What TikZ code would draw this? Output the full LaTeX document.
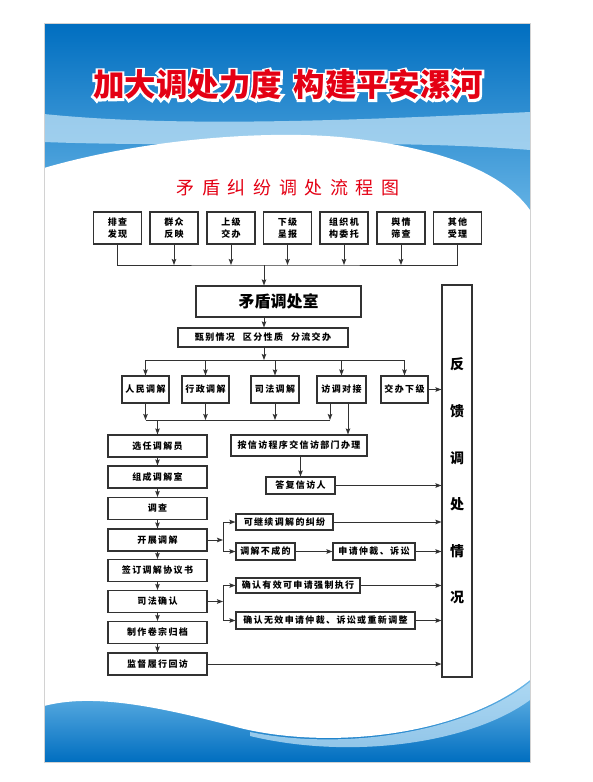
\documentclass[tikz,border=0pt]{standalone}
\usepackage{fontspec}
\usepackage{tikz}
\usetikzlibrary{arrows.meta,positioning,calc}
\usepackage{xcolor}
\newfontfamily\cjk{Noto Sans CJK SC}
\newfontfamily\cjkhalo[FakeBold=14]{Noto Sans CJK SC}
\newfontfamily\cjkwide[LetterSpace=42]{Noto Sans CJK SC}
\newfontfamily\cjkbox[LetterSpace=15]{Noto Sans CJK SC}
\definecolor{lineclr}{RGB}{50,50,50}
\definecolor{titlered}{RGB}{228,0,20}
\definecolor{bannertop}{RGB}{0,110,192}
\definecolor{bannerlow}{RGB}{110,185,232}
\definecolor{skyband}{RGB}{200,230,248}

\begin{document}
\begin{tikzpicture}[x=1pt, y=-1pt,
    srcbox/.style={draw=lineclr, line width=1.1pt, fill=white, minimum width=48pt, minimum height=32pt, inner sep=0pt, align=center, font=\cjkbox\bfseries\fontsize{9}{12}\selectfont},
    stepbox/.style={draw=lineclr, line width=1.1pt, fill=white, minimum height=22pt, inner sep=0pt, align=center, font=\cjkbox\bfseries\fontsize{9}{11}\selectfont},
    smallbox/.style={stepbox, minimum height=17pt},
    feedbox/.style={draw=lineclr, line width=1.1pt, fill=white, minimum width=30pt, minimum height=392pt, inner sep=0pt, align=center, font=\cjk\bfseries\fontsize{14}{46.6}\selectfont},
    myline/.style={draw=lineclr, line width=1pt},
    myarrow/.style={myline, -{Stealth[length=6pt,width=4.5pt,inset=1pt]}},
    titlefont/.style={font=\cjk\bfseries\fontsize{31.5}{33}\selectfont}
]
    \useasboundingbox (0,0) rectangle (593,782);
    \fill[white] (0,0) rectangle (593,782);

    % Poster background
    \fill[white] (44,23) rectangle (530,762);
    \shade[top color=bannertop, bottom color=bannerlow] (44,23) rectangle (530,232);
    \fill[skyband, opacity=0.7] (44,114) .. controls (180,128) and (360,120) .. (530,112) -- (530,150) .. controls (380,138) and (200,148) .. (44,142) -- cycle;
    \fill[white] (44,234) -- (44,168) .. controls (140,140) and (260,130) .. (340,137) .. controls (430,146) and (500,168) .. (530,210) -- (530,234) -- cycle;
    \shade[top color=bannerlow, bottom color=bannertop] (44,680) rectangle (530,762);
    \fill[white] (44,678) -- (44,706) .. controls (90,694) and (150,704) .. (240,728) .. controls (330,750) and (460,736) .. (530,680) -- (530,678) -- cycle;
    \fill[skyband, opacity=0.7] (250,732) .. controls (350,752) and (470,730) .. (530,682) -- (530,700) .. controls (470,744) and (350,760) .. (250,736) -- cycle;
    \draw[gray!35] (44,23) rectangle (530,762);

    % Title
    \node[font=\cjkhalo\bfseries\fontsize{31.5}{33}\selectfont, text=white] (halo) at (288,85) {加大调处力度\hspace{12pt}构建平安漯河};
    \node[titlefont, text=titlered] (title) at (288,85) {加大调处力度\hspace{12pt}构建平安漯河};
    \node[font=\cjkwide\fontsize{18}{20}\selectfont, text=titlered] (subtitle) at (288,188) {矛盾纠纷调处流程图};

    % Sources
    \node[srcbox] (src1) at (117.5,228) {排查\\发现};
    \node[srcbox] (src2) at (174,228) {群众\\反映};
    \node[srcbox] (src3) at (231,228) {上级\\交办};
    \node[srcbox] (src4) at (287.5,228) {下级\\呈报};
    \node[srcbox] (src5) at (344,228) {组织机\\构委托};
    \node[srcbox] (src6) at (401,228) {舆情\\筛查};
    \node[srcbox] (src7) at (457.5,228) {其他\\受理};
    \coordinate (bus) at (264,265);

    % Office
    \node[stepbox, minimum width=165pt, minimum height=31pt, font=\cjk\bfseries\fontsize{16}{18}\selectfont] (office) at (278.5,301.5) {矛盾调处室};
    \node[stepbox, minimum width=170pt, minimum height=19pt] (sort) at (263,337.5) {甄别情况\hspace{8pt}区分性质\hspace{8pt}分流交办};
    \coordinate (split) at (264,360);

    % Mediation types
    \node[stepbox, minimum width=47pt, minimum height=27pt] (m1) at (145.5,389.5) {人民调解};
    \node[stepbox, minimum width=47pt, minimum height=27pt] (m2) at (205.5,389.5) {行政调解};
    \node[stepbox, minimum width=48pt, minimum height=27pt] (m3) at (275,389.5) {司法调解};
    \node[stepbox, minimum width=49pt, minimum height=27pt] (m4) at (341.5,389.5) {访调对接};
    \node[stepbox, minimum width=47pt, minimum height=27pt] (m5) at (404.5,389.5) {交办下级};
    \coordinate (join) at (157.5,420);

    % Feedback
    \node[feedbox] (fb) at (457,481) {反\\馈\\调\\处\\情\\况};

    % Left column
    \node[stepbox, minimum width=99pt] (s1) at (157.5,446) {选任调解员};
    \node[stepbox, minimum width=99pt] (s2) at (157.5,477) {组成调解室};
    \node[stepbox, minimum width=99pt] (s3) at (157.5,508.5) {调查};
    \node[stepbox, minimum width=99pt] (s4) at (157.5,540) {开展调解};
    \node[stepbox, minimum width=99pt] (s5) at (157.5,570.5) {签订调解协议书};
    \node[stepbox, minimum width=99pt] (s6) at (157.5,601.5) {司法确认};
    \node[stepbox, minimum width=99pt] (s7) at (157.5,632.5) {制作卷宗归档};
    \node[stepbox, minimum width=99pt] (s8) at (157.5,664) {监督履行回访};

    % Petition branch
    \node[stepbox, minimum width=136pt, minimum height=21pt] (petition) at (299,445.5) {按信访程序交信访部门办理};
    \node[smallbox, minimum width=69pt] (reply) at (300.5,485.5) {答复信访人};

    % Outcomes
    \coordinate (br1) at (223,540);
    \coordinate (br2) at (223,601.5);
    \node[smallbox, minimum width=97pt, minimum height=16pt] (cont) at (284.5,522) {可继续调解的纠纷};
    \node[smallbox, minimum width=59pt] (fail) at (265.5,551.5) {调解不成的};
    \node[smallbox, minimum width=82pt] (appeal) at (374,551.5) {申请仲裁、诉讼};
    \node[smallbox, minimum width=124pt, minimum height=15pt] (valid) at (298,585.5) {确认有效可申请强制执行};
    \node[smallbox, minimum width=179pt] (invalid) at (325.5,620.5) {确认无效申请仲裁、诉讼或重新调整};

    % Arrows
    \draw[myline] (src1.south) |- (bus) -| (src7.south);
    \draw[myarrow] (src2.south) -- (src2.south |- bus);
    \draw[myarrow] (src3.south) -- (src3.south |- bus);
    \draw[myarrow] (src4.south) -- (src4.south |- bus);
    \draw[myarrow] (src5.south) -- (src5.south |- bus);
    \draw[myarrow] (src6.south) -- (src6.south |- bus);
    \draw[myarrow] (bus) -- (bus |- office.north);
    \draw[myarrow] (bus |- office.south) -- (bus |- sort.north);
    \draw[myarrow] (split |- sort.south) -- (split);
    \draw[myline] (m1.north |- split) -- (m5.north |- split);
    \draw[myarrow] (m1.north |- split) -- (m1.north);
    \draw[myarrow] (m2.north |- split) -- (m2.north);
    \draw[myarrow] (m3.north |- split) -- (m3.north);
    \draw[myarrow] (m4.north |- split) -- (m4.north);
    \draw[myarrow] (m5.north |- split) -- (m5.north);
    \draw[myarrow] (m5.east) -- (fb.west |- m5);

    \draw[myarrow] (m1.south) -- (m1.south |- join);
    \draw[myarrow] (m2.south) -- (m2.south |- join);
    \draw[myarrow] (m3.south) -- (m3.south |- join);
    \draw[myarrow] ([xshift=-11.5pt]m4.south) -- ([xshift=-11.5pt]m4.south |- join);
    \draw[myline] (m1.south |- join) -- ([xshift=-11.5pt]m4.south |- join);
    \draw[myarrow] (join) -- (s1.north);
    \draw[myarrow] ([xshift=6.5pt]m4.south) -- ([xshift=6.5pt]m4.south |- petition.north);
    \draw[myarrow] (reply.north |- petition.south) -- (reply.north);
    \draw[myarrow] (reply.east) -- (fb.west |- reply);

    \draw[myarrow] (s1) -- (s2);
    \draw[myarrow] (s2) -- (s3);
    \draw[myarrow] (s3) -- (s4);
    \draw[myarrow] (s4) -- (s5);
    \draw[myarrow] (s5) -- (s6);
    \draw[myarrow] (s6) -- (s7);
    \draw[myarrow] (s7) -- (s8);

    \draw[myarrow] (s4.east) -- (br1);
    \draw[myline] (br1 |- cont) -- (br1 |- fail);
    \draw[myarrow] (br1 |- cont) -- (cont.west);
    \draw[myarrow] (br1 |- fail) -- (fail.west);
    \draw[myarrow] (cont.east) -- (fb.west |- cont);
    \draw[myarrow] (fail.east) -- (appeal.west);
    \draw[myarrow] (appeal.east) -- (fb.west |- appeal);

    \draw[myarrow] (s6.east) -- (br2);
    \draw[myline] (br2 |- valid) -- (br2 |- invalid);
    \draw[myarrow] (br2 |- valid) -- (valid.west);
    \draw[myarrow] (br2 |- invalid) -- (invalid.west);
    \draw[myarrow] (valid.east) -- (fb.west |- valid);
    \draw[myarrow] (invalid.east) -- (fb.west |- invalid);
    \draw[myarrow] (s8.east) -- (fb.west |- s8);
\end{tikzpicture}
\end{document}
